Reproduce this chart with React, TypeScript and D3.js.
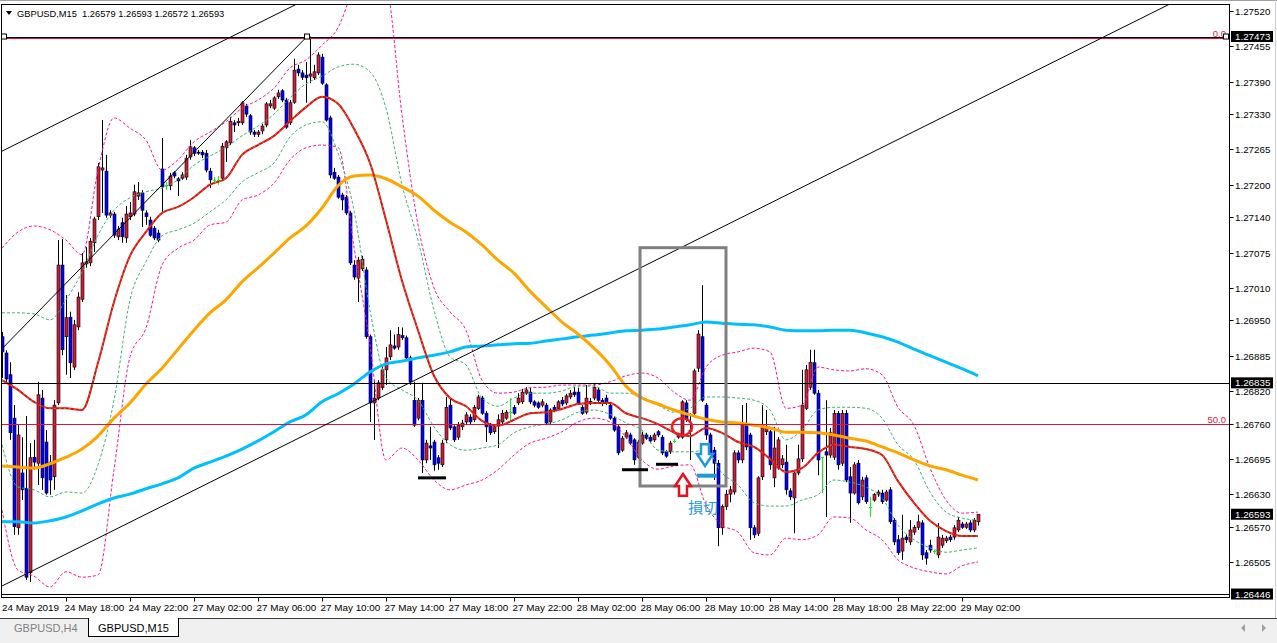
import React from 'react';
import * as d3 from 'd3';

const WIDTH = 1277;
const HEIGHT = 643;

const symbolTitle = 'GBPUSD,M15';
const lastBar = ['1.26579', '1.26593', '1.26572', '1.26593'];
const otherTab = 'GBPUSD,H4';

// M15 bars starting 24 May 2019 14:00 — [open, high, low, close]
const candles: [number, number, number, number][] = [
  [1.26920,1.26929,1.26844,1.26892],[1.26890,1.26895,1.26833,1.26842],[1.26850,1.26873,1.26730,1.26743],[1.26770,1.26794,1.26555,1.26570],
  [1.26568,1.26757,1.26555,1.26739],[1.26669,1.26735,1.26619,1.26638],[1.26641,1.26774,1.26472,1.26477],[1.26485,1.26724,1.26468,1.26697],
  [1.26698,1.26730,1.26675,1.26689],[1.26687,1.26837,1.26647,1.26813],[1.26807,1.26822,1.26638,1.26660],[1.26726,1.26748,1.26629,1.26632],
  [1.26689,1.26702,1.26629,1.26656],[1.26662,1.26803,1.26638,1.26794],[1.26798,1.27098,1.26794,1.27052],[1.27052,1.27100,1.26886,1.26896],
  [1.26920,1.26997,1.26850,1.26955],[1.26956,1.26966,1.26844,1.26872],[1.26864,1.26951,1.26859,1.26942],[1.26938,1.27002,1.26932,1.26993],
  [1.26989,1.27074,1.26984,1.27056],[1.27054,1.27085,1.27047,1.27058],[1.27056,1.27102,1.27050,1.27096],[1.27093,1.27141,1.27076,1.27137],
  [1.27141,1.27240,1.27135,1.27233],[1.27227,1.27319,1.27148,1.27231],[1.27225,1.27255,1.27139,1.27144],[1.27144,1.27153,1.27139,1.27148],
  [1.27146,1.27150,1.27102,1.27107],[1.27104,1.27124,1.27098,1.27118],[1.27130,1.27139,1.27093,1.27104],[1.27102,1.27161,1.27093,1.27146],
  [1.27141,1.27168,1.27135,1.27148],[1.27146,1.27200,1.27142,1.27187],[1.27179,1.27205,1.27172,1.27185],[1.27185,1.27190,1.27122,1.27153],
  [1.27148,1.27153,1.27126,1.27141],[1.27135,1.27141,1.27104,1.27107],[1.27120,1.27124,1.27098,1.27102],[1.27111,1.27117,1.27094,1.27098],
  [1.27229,1.27286,1.27150,1.27196],[1.27200,1.27205,1.27190,1.27200],[1.27198,1.27222,1.27190,1.27216],[1.27222,1.27225,1.27212,1.27216],
  [1.27211,1.27214,1.27179,1.27207],[1.27212,1.27223,1.27209,1.27218],[1.27214,1.27255,1.27209,1.27249],[1.27251,1.27282,1.27246,1.27270],
  [1.27268,1.27271,1.27253,1.27258],[1.27260,1.27264,1.27255,1.27258],[1.27260,1.27264,1.27249,1.27255],[1.27258,1.27264,1.27223,1.27227],
  [1.27225,1.27231,1.27194,1.27209],[1.27209,1.27214,1.27201,1.27209],[1.27209,1.27216,1.27200,1.27209],[1.27212,1.27277,1.27209,1.27271],
  [1.27268,1.27282,1.27242,1.27279],[1.27277,1.27325,1.27273,1.27317],[1.27314,1.27319,1.27297,1.27310],[1.27314,1.27323,1.27308,1.27317],
  [1.27314,1.27354,1.27310,1.27351],[1.27345,1.27349,1.27325,1.27330],[1.27327,1.27330,1.27292,1.27297],[1.27297,1.27301,1.27288,1.27293],
  [1.27293,1.27301,1.27288,1.27297],[1.27299,1.27312,1.27293,1.27308],[1.27310,1.27352,1.27306,1.27349],[1.27345,1.27356,1.27341,1.27349],
  [1.27341,1.27363,1.27338,1.27360],[1.27362,1.27375,1.27358,1.27369],[1.27373,1.27376,1.27352,1.27356],[1.27356,1.27360,1.27303,1.27306],
  [1.27314,1.27356,1.27310,1.27351],[1.27352,1.27432,1.27349,1.27411],[1.27413,1.27421,1.27400,1.27406],[1.27406,1.27411,1.27393,1.27398],
  [1.27402,1.27426,1.27351,1.27397],[1.27400,1.27473,1.27387,1.27404],[1.27397,1.27421,1.27393,1.27408],[1.27406,1.27444,1.27402,1.27439],
  [1.27435,1.27441,1.27384,1.27387],[1.27384,1.27387,1.27316,1.27319],[1.27323,1.27327,1.27212,1.27218],[1.27223,1.27231,1.27209,1.27212],
  [1.27214,1.27218,1.27174,1.27177],[1.27181,1.27185,1.27153,1.27172],[1.27177,1.27181,1.27144,1.27148],[1.27148,1.27152,1.27052,1.27056],
  [1.27052,1.27061,1.27025,1.27030],[1.27028,1.27067,1.26984,1.27061],[1.27045,1.27069,1.27041,1.27063],[1.27043,1.27048,1.26916,1.26920],
  [1.26920,1.26924,1.26763,1.26798],[1.26798,1.26840,1.26730,1.26807],[1.26807,1.26840,1.26803,1.26835],[1.26826,1.26868,1.26822,1.26859],
  [1.26859,1.26901,1.26831,1.26881],[1.26883,1.26932,1.26877,1.26905],[1.26903,1.26924,1.26896,1.26899],[1.26901,1.26938,1.26896,1.26924],
  [1.26922,1.26937,1.26914,1.26918],[1.26918,1.26922,1.26877,1.26881],[1.26881,1.26885,1.26831,1.26837],[1.26803,1.26837,1.26754,1.26757],
  [1.26770,1.26807,1.26766,1.26803],[1.26803,1.26835,1.26669,1.26693],[1.26693,1.26730,1.26687,1.26724],[1.26719,1.26754,1.26693,1.26715],
  [1.26726,1.26730,1.26673,1.26684],[1.26697,1.26702,1.26675,1.26687],[1.26684,1.26730,1.26680,1.26724],[1.26730,1.26809,1.26724,1.26790],
  [1.26794,1.26807,1.26748,1.26752],[1.26754,1.26757,1.26726,1.26730],[1.26735,1.26763,1.26730,1.26757],[1.26754,1.26767,1.26748,1.26761],
  [1.26763,1.26781,1.26757,1.26776],[1.26772,1.26777,1.26759,1.26763],[1.26767,1.26794,1.26763,1.26790],[1.26788,1.26813,1.26785,1.26809],
  [1.26807,1.26811,1.26776,1.26779],[1.26779,1.26783,1.26726,1.26754],[1.26757,1.26761,1.26739,1.26743],[1.26745,1.26757,1.26741,1.26754],
  [1.26759,1.26777,1.26715,1.26767],[1.26763,1.26785,1.26759,1.26779],[1.26770,1.26785,1.26767,1.26781],[1.26781,1.26807,1.26763,1.26781],
  [1.26790,1.26794,1.26776,1.26779],[1.26798,1.26816,1.26794,1.26807],[1.26800,1.26824,1.26796,1.26818],[1.26816,1.26827,1.26813,1.26822],
  [1.26818,1.26826,1.26796,1.26800],[1.26800,1.26803,1.26790,1.26794],[1.26798,1.26801,1.26787,1.26790],[1.26794,1.26805,1.26790,1.26800],
  [1.26794,1.26798,1.26757,1.26761],[1.26763,1.26788,1.26759,1.26785],[1.26790,1.26794,1.26781,1.26785],[1.26788,1.26803,1.26785,1.26800],
  [1.26803,1.26809,1.26792,1.26796],[1.26798,1.26815,1.26794,1.26811],[1.26809,1.26822,1.26805,1.26816],[1.26818,1.26827,1.26809,1.26813],
  [1.26818,1.26826,1.26794,1.26798],[1.26790,1.26794,1.26776,1.26779],[1.26781,1.26831,1.26777,1.26807],[1.26801,1.26807,1.26794,1.26798],
  [1.26807,1.26835,1.26803,1.26827],[1.26822,1.26826,1.26800,1.26803],[1.26803,1.26807,1.26792,1.26798],[1.26807,1.26813,1.26794,1.26798],
  [1.26794,1.26800,1.26767,1.26770],[1.26770,1.26774,1.26745,1.26748],[1.26754,1.26757,1.26702,1.26706],[1.26711,1.26737,1.26708,1.26733],
  [1.26735,1.26748,1.26732,1.26743],[1.26739,1.26743,1.26721,1.26724],[1.26730,1.26733,1.26684,1.26693],[1.26698,1.26730,1.26695,1.26726],
  [1.26724,1.26745,1.26721,1.26739],[1.26739,1.26743,1.26730,1.26733],[1.26735,1.26739,1.26724,1.26728],[1.26730,1.26743,1.26726,1.26739],
  [1.26745,1.26748,1.26735,1.26739],[1.26735,1.26739,1.26702,1.26706],[1.26708,1.26711,1.26697,1.26700],[1.26708,1.26728,1.26704,1.26724],
  [1.26728,1.26732,1.26724,1.26728],[1.26735,1.26743,1.26732,1.26739],[1.26735,1.26803,1.26732,1.26800],[1.26798,1.26803,1.26763,1.26767],
  [1.26748,1.26779,1.26693,1.26745],[1.26779,1.26861,1.26776,1.26857],[1.26862,1.26932,1.26855,1.26925],[1.26920,1.27015,1.26800,1.26803],
  [1.26794,1.26798,1.26730,1.26739],[1.26739,1.26743,1.26693,1.26698],[1.26711,1.26717,1.26656,1.26687],[1.26687,1.26693,1.26534,1.26568],
  [1.26568,1.26611,1.26555,1.26607],[1.26607,1.26638,1.26601,1.26630],[1.26630,1.26645,1.26615,1.26638],[1.26634,1.26711,1.26629,1.26706],
  [1.26706,1.26711,1.26687,1.26693],[1.26693,1.26794,1.26687,1.26761],[1.26757,1.26798,1.26711,1.26717],[1.26739,1.26743,1.26546,1.26568],
  [1.26568,1.26573,1.26549,1.26555],[1.26558,1.26663,1.26553,1.26660],[1.26662,1.26794,1.26656,1.26757],[1.26745,1.26785,1.26739,1.26754],
  [1.26745,1.26748,1.26675,1.26684],[1.26660,1.26754,1.26643,1.26715],[1.26678,1.26735,1.26675,1.26730],[1.26684,1.26702,1.26678,1.26695],
  [1.26689,1.26721,1.26629,1.26638],[1.26636,1.26641,1.26619,1.26625],[1.26623,1.26675,1.26558,1.26669],[1.26669,1.26721,1.26665,1.26695],
  [1.26695,1.26859,1.26689,1.26794],[1.26788,1.26868,1.26785,1.26859],[1.26827,1.26896,1.26822,1.26873],[1.26872,1.26896,1.26813,1.26816],
  [1.26816,1.26822,1.26665,1.26693],[1.26698,1.26698,1.26632,1.26698],[1.26708,1.26803,1.26588,1.26702],[1.26702,1.26752,1.26697,1.26743],
  [1.26698,1.26785,1.26693,1.26779],[1.26779,1.26783,1.26675,1.26684],[1.26687,1.26785,1.26682,1.26779],[1.26779,1.26785,1.26652,1.26656],
  [1.26662,1.26680,1.26577,1.26632],[1.26632,1.26689,1.26629,1.26684],[1.26687,1.26693,1.26611,1.26614],[1.26625,1.26662,1.26619,1.26656],
  [1.26660,1.26665,1.26612,1.26616],[1.26607,1.26625,1.26588,1.26607],[1.26619,1.26632,1.26616,1.26629],[1.26630,1.26638,1.26625,1.26634],
  [1.26632,1.26638,1.26612,1.26616],[1.26619,1.26638,1.26616,1.26634],[1.26638,1.26643,1.26575,1.26579],[1.26582,1.26586,1.26536,1.26542],
  [1.26546,1.26555,1.26518,1.26522],[1.26525,1.26592,1.26509,1.26549],[1.26551,1.26556,1.26540,1.26546],[1.26542,1.26582,1.26536,1.26564],
  [1.26560,1.26573,1.26555,1.26569],[1.26569,1.26592,1.26564,1.26579],[1.26577,1.26582,1.26509,1.26518],[1.26522,1.26527,1.26500,1.26512],
  [1.26536,1.26546,1.26522,1.26527],[1.26525,1.26527,1.26520,1.26525],[1.26518,1.26577,1.26512,1.26551],[1.26536,1.26555,1.26531,1.26549],
  [1.26544,1.26553,1.26540,1.26549],[1.26551,1.26555,1.26542,1.26546],[1.26551,1.26573,1.26546,1.26568],[1.26564,1.26588,1.26560,1.26582],
  [1.26575,1.26579,1.26566,1.26569],[1.26569,1.26579,1.26566,1.26575],[1.26577,1.26582,1.26560,1.26564],[1.26564,1.26586,1.26560,1.26582],
  [1.26579,1.26593,1.26572,1.26593],
];

// indicator values every 4 bars
const SAMPLE_STEP = 4;
const maRed = [1.26840,1.26822,1.26800,1.26788,1.26788,1.26785,1.26872,1.26984,1.27069,1.27113,1.27148,1.27159,1.27177,1.27200,1.27212,1.27255,1.27273,1.27290,1.27317,1.27343,1.27362,1.27349,1.27303,1.27240,1.27135,1.27023,1.26932,1.26848,1.26807,1.26792,1.26765,1.26756,1.26767,1.26779,1.26781,1.26787,1.26796,1.26798,1.26798,1.26779,1.26770,1.26759,1.26744,1.26737,1.26752,1.26743,1.26726,1.26717,1.26695,1.26671,1.26678,1.26706,1.26721,1.26717,1.26713,1.26702,1.26654,1.26614,1.26581,1.26562,1.26553,1.26553];
const maOrange = [1.26682,1.26680,1.26678,1.26686,1.26698,1.26713,1.26737,1.26770,1.26798,1.26833,1.26862,1.26897,1.26932,1.26964,1.26988,1.27021,1.27047,1.27074,1.27102,1.27124,1.27157,1.27198,1.27216,1.27218,1.27211,1.27196,1.27179,1.27153,1.27131,1.27113,1.27089,1.27061,1.27037,1.27004,1.26975,1.26947,1.26925,1.26899,1.26868,1.26829,1.26807,1.26796,1.26785,1.26776,1.26768,1.26763,1.26761,1.26757,1.26752,1.26744,1.26744,1.26743,1.26739,1.26733,1.26728,1.26717,1.26706,1.26693,1.26682,1.26675,1.26665,1.26656];
const maBlue = [1.26579,1.26579,1.26577,1.26581,1.26588,1.26599,1.26612,1.26623,1.26630,1.26640,1.26649,1.26660,1.26678,1.26689,1.26700,1.26713,1.26728,1.26745,1.26763,1.26776,1.26800,1.26815,1.26833,1.26855,1.26870,1.26875,1.26881,1.26886,1.26892,1.26901,1.26903,1.26905,1.26907,1.26908,1.26912,1.26916,1.26920,1.26923,1.26927,1.26931,1.26932,1.26934,1.26938,1.26942,1.26947,1.26945,1.26943,1.26942,1.26938,1.26932,1.26931,1.26931,1.26932,1.26932,1.26927,1.26920,1.26910,1.26897,1.26885,1.26873,1.26861,1.26848];
const bandInnerUpper = [1.26964,1.26964,1.26962,1.26951,1.26988,1.27039,1.27107,1.27153,1.27176,1.27187,1.27194,1.27209,1.27236,1.27253,1.27269,1.27290,1.27308,1.27330,1.27360,1.27386,1.27400,1.27417,1.27422,1.27408,1.27341,1.27200,1.27098,1.26969,1.26883,1.26868,1.26807,1.26792,1.26807,1.26816,1.26816,1.26820,1.26829,1.26829,1.26816,1.26816,1.26809,1.26794,1.26781,1.26788,1.26809,1.26809,1.26807,1.26803,1.26785,1.26730,1.26748,1.26785,1.26790,1.26790,1.26788,1.26770,1.26721,1.26693,1.26634,1.26597,1.26586,1.26582];
const bandInnerLower = [1.26721,1.26643,1.26638,1.26625,1.26634,1.26632,1.26684,1.26803,1.26988,1.27058,1.27106,1.27117,1.27129,1.27150,1.27172,1.27205,1.27222,1.27240,1.27288,1.27310,1.27316,1.27258,1.27153,1.26969,1.26844,1.26822,1.26803,1.26754,1.26721,1.26711,1.26715,1.26721,1.26743,1.26754,1.26759,1.26767,1.26781,1.26785,1.26777,1.26761,1.26748,1.26711,1.26708,1.26708,1.26711,1.26669,1.26647,1.26614,1.26608,1.26608,1.26619,1.26629,1.26656,1.26652,1.26643,1.26623,1.26573,1.26546,1.26531,1.26523,1.26527,1.26531];
const bandOuterUpper = [1.27083,1.27113,1.27124,1.27117,1.27098,1.27071,1.27227,1.27323,1.27304,1.27282,1.27227,1.27246,1.27279,1.27297,1.27316,1.27341,1.27356,1.27378,1.27415,1.27430,1.27457,1.27489,1.27562,1.27596,1.27569,1.27328,1.27126,1.27010,1.26966,1.26932,1.26840,1.26816,1.26818,1.26826,1.26827,1.26831,1.26831,1.26831,1.26837,1.26848,1.26853,1.26844,1.26818,1.26803,1.26864,1.26886,1.26892,1.26899,1.26892,1.26788,1.26794,1.26864,1.26859,1.26857,1.26861,1.26850,1.26790,1.26757,1.26678,1.26619,1.26595,1.26597];
const bandOuterLower = [1.26601,1.26490,1.26479,1.26459,1.26487,1.26477,1.26481,1.26675,1.26883,1.26936,1.27052,1.27083,1.27098,1.27126,1.27131,1.27172,1.27181,1.27203,1.27246,1.27268,1.27273,1.27269,1.27085,1.26905,1.26693,1.26715,1.26693,1.26656,1.26638,1.26647,1.26656,1.26675,1.26702,1.26724,1.26733,1.26745,1.26763,1.26770,1.26763,1.26735,1.26693,1.26676,1.26682,1.26684,1.26610,1.26573,1.26560,1.26522,1.26518,1.26549,1.26546,1.26555,1.26588,1.26586,1.26564,1.26546,1.26509,1.26494,1.26487,1.26483,1.26498,1.26505];

const priceTicks = [1.2752,1.27455,1.2739,1.2733,1.27265,1.272,1.2714,1.27075,1.2701,1.2695,1.26885,1.2682,1.2676,1.26695,1.2663,1.2657,1.26505];
const firstDateLabel = '24 May 2019';
const timeTicks: [number, string][] = [
  [16,'24 May 18:00'],[32,'24 May 22:00'],[48,'27 May 02:00'],[64,'27 May 06:00'],[80,'27 May 10:00'],
  [96,'27 May 14:00'],[112,'27 May 18:00'],[128,'27 May 22:00'],[144,'28 May 02:00'],[160,'28 May 06:00'],
  [176,'28 May 10:00'],[192,'28 May 14:00'],[208,'28 May 18:00'],[224,'28 May 22:00'],[240,'29 May 02:00'],
];

const horizontalLines = [1.27473, 1.26835, 1.26446];
const priceTags = [1.27473, 1.26835, 1.26593, 1.26446];
const fibHigh = 1.27471;
const fibLow = 1.26049;
const fibLevels = [0, 50];
const trendLines: [[number, number], [number, number]][] = [
  [[-0.5, 1.2726], [73.75, 1.27533]],
  [[-0.5, 1.26459], [292, 1.27533]],
  [[-0.5, 1.26894], [76.25, 1.27473]],
];
const anchorHandles: [number, number][] = [[0.5, 1.27473], [76.25, 1.27473], [306, 1.27473]];

const boxRegion = { from: 159.5, to: 181, high: 1.27084, low: 1.26645 };
const circleMark = { bar: 170, price: 1.26754 };
const entryArrow = { bar: 170.25, tip: 1.26667, base: 1.26627 };
const stopArrow = { bar: 175.75, top: 1.26722, tip: 1.26682 };
const stopLine = { from: 173.75, to: 178.75, price: 1.26664 };
const lowMarks = [
  { from: 104, to: 111, price: 1.2666 },
  { from: 155, to: 161.5, price: 1.26675 },
  { from: 163.5, to: 169, price: 1.26685 },
];
const stopLabel = { text: '損切', bar: 171.5, price: 1.26595 };

const FONT = "'Liberation Sans', Arial, sans-serif";

export default function App() {
  const x = d3.scaleLinear().domain([0, 300]).range([2, 1202]);
  const y = d3.scaleLinear().domain([1.26505, 1.2752]).range([562, 11]);
  const PL = 1.5, PR = 1229.5, PT = 4.5, PB = 597.5;

  const sampled = (vals: number[]) =>
    d3.line<number>().x((_, k) => x(k * SAMPLE_STEP)).y((v) => y(v)).curve(d3.curveMonotoneX)(vals) || '';

  const ex = x(entryArrow.bar);
  const eTip = y(entryArrow.tip);
  const eBase = y(entryArrow.base);
  const upArrow = `M${ex},${eTip} L${ex + 8},${eTip + 12} L${ex + 4},${eTip + 12} L${ex + 4},${eBase} L${ex - 4},${eBase} L${ex - 4},${eTip + 12} L${ex - 8},${eTip + 12} Z`;
  const sx = x(stopArrow.bar);
  const sTop = y(stopArrow.top);
  const sTip = y(stopArrow.tip);
  const downArrow = `M${sx - 4},${sTop} L${sx + 4},${sTop} L${sx + 4},${sTip - 12} L${sx + 8},${sTip - 12} L${sx},${sTip} L${sx - 8},${sTip - 12} L${sx - 4},${sTip - 12} Z`;

  return (
    <svg width={WIDTH} height={HEIGHT} style={{ position: 'absolute', left: 0, top: 0, background: '#fff' }} fontFamily={FONT}>
      <defs>
        <clipPath id="plotClip">
          <rect x={PL} y={PT} width={PR - PL} height={PB - PT} />
        </clipPath>
      </defs>
      <rect x={0} y={0} width={WIDTH} height={HEIGHT} fill="#fff" />
      <line x1={0} x2={WIDTH} y1={0.5} y2={0.5} stroke="#a0a0a0" />
      <line x1={1275.5} x2={1275.5} y1={0} y2={618} stroke="#d0d0d0" />

      {/* header */}
      <path d="M6,11 L12,11 L9,15 Z" fill="#000" />
      <text x={17} y={17} fontSize={9.3} fill="#000" style={{ whiteSpace: 'pre' }}>
        {`${symbolTitle}  ${lastBar.join(' ')}`}
      </text>

      <g clipPath="url(#plotClip)">
        {/* candles */}
        {candles.map(([o, h, l, c], i) => {
          const cx = Math.round(x(i));
          if (o === c) {
            const yy = Math.round(y(o)) + 0.5;
            return (
              <g key={i} stroke="#00ff00">
                <line x1={cx + 0.5} x2={cx + 0.5} y1={y(h)} y2={y(l)} />
                <line x1={cx - 1} x2={cx + 2} y1={yy} y2={yy} />
              </g>
            );
          }
          const top = y(Math.max(o, c));
          const bot = y(Math.min(o, c));
          return (
            <g key={i}>
              <line x1={cx + 0.5} x2={cx + 0.5} y1={y(h)} y2={y(l)} stroke="#000" />
              <rect x={cx - 1} y={top} width={3} height={Math.max(bot - top, 1)} fill={c > o ? '#d01c3a' : '#0000ff'} stroke="#000" strokeWidth={0.6} />
            </g>
          );
        })}

        {/* envelopes / bands */}
        <path d={sampled(bandOuterUpper)} fill="none" stroke="#ff1493" strokeWidth={1} strokeDasharray="3,2" />
        <path d={sampled(bandOuterLower)} fill="none" stroke="#ff1493" strokeWidth={1} strokeDasharray="3,2" />
        <path d={sampled(bandInnerUpper)} fill="none" stroke="#3cb371" strokeWidth={1} strokeDasharray="3,2" />
        <path d={sampled(bandInnerLower)} fill="none" stroke="#3cb371" strokeWidth={1} strokeDasharray="3,2" />
        {/* moving averages */}
        <path d={sampled(maBlue)} fill="none" stroke="#00bfff" strokeWidth={3} />
        <path d={sampled(maOrange)} fill="none" stroke="#ffa500" strokeWidth={3} />
        <path d={sampled(maRed)} fill="none" stroke="#ff0000" strokeWidth={2} />
        <path d={sampled(maRed)} fill="none" stroke="#3cb371" strokeWidth={1} strokeDasharray="2,3" />

        {/* horizontal lines */}
        {horizontalLines.map((p) => (
          <line key={p} x1={PL} x2={PR} y1={Math.round(y(p)) + 0.5} y2={Math.round(y(p)) + 0.5} stroke="#000" />
        ))}
        {fibLevels.map((lv) => {
          const p = fibHigh - ((fibHigh - fibLow) * lv) / 100;
          const yy = Math.round(y(p)) + 0.5;
          return (
            <g key={lv}>
              <line x1={PL} x2={PR} y1={yy} y2={yy} stroke="#dc143c" />
              <text x={1226} y={yy - 2} fontSize={9.5} fill="#dc143c" textAnchor="end">{lv.toFixed(1)}</text>
            </g>
          );
        })}
        {trendLines.map(([a, b], k) => (
          <line key={k} x1={x(a[0])} y1={y(a[1])} x2={x(b[0])} y2={y(b[1])} stroke="#000" strokeWidth={1} />
        ))}
        {anchorHandles.map(([bar, p], k) => (
          <rect key={k} x={x(bar) - 2.5} y={y(p) - 2.5} width={5} height={5} fill="#fff" stroke="#000" strokeWidth={1} />
        ))}

        {/* annotations */}
        <rect x={x(boxRegion.from)} y={y(boxRegion.high)} width={x(boxRegion.to) - x(boxRegion.from)} height={y(boxRegion.low) - y(boxRegion.high)} fill="none" stroke="#808080" strokeWidth={3} />
        <ellipse cx={x(circleMark.bar)} cy={y(circleMark.price)} rx={10} ry={8.5} fill="none" stroke="#e8202a" strokeWidth={2.5} />
        {lowMarks.map((m, k) => (
          <line key={k} x1={x(m.from)} x2={x(m.to)} y1={y(m.price)} y2={y(m.price)} stroke="#000" strokeWidth={3} />
        ))}
        <path d={upArrow} fill="#fff" stroke="#e8101e" strokeWidth={2.5} strokeLinejoin="miter" />
        <path d={downArrow} fill="#fff" stroke="#1c9bd8" strokeWidth={2.5} strokeLinejoin="miter" />
        <line x1={x(stopLine.from)} x2={x(stopLine.to)} y1={y(stopLine.price)} y2={y(stopLine.price)} stroke="#1c9bd8" strokeWidth={4} />
        <text x={x(stopLabel.bar)} y={y(stopLabel.price)} fontSize={15} fill="#1c9bd8" fontFamily="'Noto Sans CJK JP', sans-serif">{stopLabel.text}</text>
      </g>

      {/* plot frame */}
      <rect x={PL} y={PT} width={PR - PL} height={PB - PT} fill="none" stroke="#000" strokeWidth={1} />

      {/* price axis */}
      {priceTicks.map((p) => {
        const yy = Math.round(y(p)) + 0.5;
        return (
          <g key={p}>
            <line x1={PR} x2={PR + 4} y1={yy} y2={yy} stroke="#000" />
            <text x={1235} y={yy + 3.5} fontSize={9.8} fill="#000">{p.toFixed(5)}</text>
          </g>
        );
      })}
      {priceTags.map((p) => {
        const yy = y(p);
        return (
          <g key={p}>
            <rect x={1231} y={yy - 5.5} width={42} height={11} fill="#000" />
            <text x={1235} y={yy + 3.5} fontSize={9.8} fill="#fff">{p.toFixed(5)}</text>
          </g>
        );
      })}

      {/* time axis */}
      <text x={2} y={611} fontSize={9.9} fill="#000">{firstDateLabel}</text>
      {timeTicks.map(([bar, label]) => {
        const xx = Math.round(x(bar)) + 0.5;
        return (
          <g key={bar}>
            <line x1={xx} x2={xx} y1={PB} y2={PB + 4} stroke="#000" />
            <text x={xx - 2} y={611} fontSize={9.9} fill="#000">{label}</text>
          </g>
        );
      })}

      {/* tab bar */}
      <rect x={0} y={618} width={WIDTH} height={HEIGHT - 618} fill="#f0f0f0" />
      <line x1={0} x2={WIDTH} y1={618.5} y2={618.5} stroke="#404040" />
      <rect x={88.5} y={618.5} width={90} height={18} fill="#fff" stroke="#000" />
      <line x1={89} x2={178} y1={618.5} y2={618.5} stroke="#fff" />
      <text x={14} y={632} fontSize={11} fill="#808080">{otherTab}</text>
      <text x={98} y={632} fontSize={11} fill="#000">{symbolTitle}</text>
      <path d="M1245,624 L1245,632 L1241,628 Z" fill="#a0a0a0" />
      <path d="M1262,624 L1262,632 L1266,628 Z" fill="#a0a0a0" />
    </svg>
  );
}
